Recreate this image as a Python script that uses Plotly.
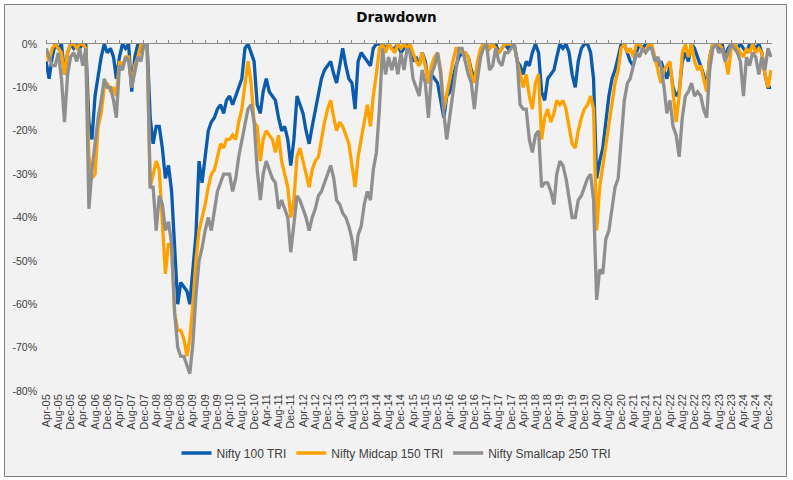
import pandas as pd
import plotly.graph_objects as go

# Monthly drawdown readings (%), Apr-2005 .. Jan-2025
months = pd.date_range("2005-04-01", periods=238, freq="MS")

nifty100 = [
    -4, -8, -3, 0, -1, 0, -7, -2, 0,                                  # 2005 Apr-Dec
    -1, 0, -1, 0, 0, -18, -22, -12, -7, -3, 0, -2,                    # 2006
    -1, -3, -8, -3, 0, -1, 0, -11, -3, 0, -2, 0,                      # 2007
    0, -17, -23, -19, -19, -24, -31, -28, -34, -46, -60, -55,         # 2008
    -56, -57, -60, -51, -44, -27, -32, -26, -20, -18, -17, -15,       # 2009
    -14, -16, -13, -12, -14, -12, -10, -8, -1, 0, -2, -4,             # 2010
    -14, -16, -11, -8, -11, -12, -13, -17, -20, -19, -22, -28,        # 2011
    -22, -12, -14, -16, -20, -23, -19, -15, -11, -8, -6, -5,          # 2012
    -4, -7, -9, -5, -1, -5, -8, -9, -15, -4, -2, -3,                  # 2013
    -4, -5, -1, 0, 0, 0, -1, 0, -1, -1, 0, -2,                        # 2014
    -1, 0, 0, -4, -3, -5, -2, -4, -9, -7, -8, -9,                     # 2015
    -13, -17, -12, -11, -8, -5, -3, -2, -2, -3, -6, -8,               # 2016
    -6, -2, 0, 0, -1, 0, 0, -2, -1, 0, -1, 0,                         # 2017
    0, -4, -5, -7, -4, -5, -2, 0, -2, -11, -13, -8,                   # 2018
    -7, -6, -3, 0, -1, 0, -2, -7, -10, -4, -1, 0,                     # 2019
    0, -2, -8, -31, -27, -24, -18, -12, -8, -6, -3, 0,                # 2020
    0, -2, -4, -5, -2, 0, -1, 0, 0, -1, -3, -5,                       # 2021
    -4, -6, -8, -5, -10, -12, -11, -4, -2, -4, 0, -1,                 # 2022
    -3, -5, -7, -10, -3, 0, 0, -1, 0, -3, -1, 0,                      # 2023
    0, -1, 0, -1, -2, 0, 0, -1, 0, -2, -7, -10,                       # 2024
    -10,                                                              # 2025 Jan
]

midcap150 = [
    -2, -4, -1, 0, -1, -2, -7, -2, 0,
    0, -1, 0, 0, -1, -26, -31, -30, -19, -16, -10, -9,
    -11, -10, -12, -4, -5, -3, -3, -10, -5, -3, 0, 0,
    0, -33, -30, -27, -29, -43, -53, -46, -47, -62, -66, -66,
    -68, -72, -68, -60, -50, -43, -40, -37, -33, -30, -29, -26,
    -23, -24, -22, -22, -21, -22, -18, -15, -9, -4, -9, -18,
    -19, -27, -22, -20, -21, -22, -25, -21, -27, -30, -33, -40,
    -36, -26, -24, -27, -30, -33, -29, -27, -26, -22, -18, -15,
    -13, -17, -20, -18, -19, -21, -23, -28, -33, -26, -22, -18,
    -14, -19, -12, -7, -1, 0, -2, 0, -1, -2, 0, -1,
    0, -1, 0, -2, -4, -5, -2, -5, -9, -5, -3, -2,
    -6, -15, -12, -8, -4, -1, -1, -2, -2, -3, -7, -9,
    -4, -1, 0, 0, -1, 0, -1, -2, -1, 0, 0, 0,
    0, -4, -7, -10, -7, -12, -15, -9, -7, -22, -17, -15,
    -18, -16, -13, -14, -13, -15, -19, -23, -24, -20, -17, -15,
    -14, -12, -15, -43, -33, -28, -24, -18, -14, -9, -6, -1,
    0, -2, -1, -3, 0, 0, -1, -2, 0, 0, -3, -6,
    -9, -6, -5, -4, -11, -18, -12, -2, 0, -3, 0, -4,
    -6, -5, -8, -11, -3, 0, 0, 0, -1, -3, -7, -1,
    0, -1, -2, -3, -1, -2, 0, -2, -1, -2, -7, -10,
    -6,
]

smallcap250 = [
    -1, -3, -5, -5, -2, -8, -18, -7, -3,
    -2, -4, -1, -5, -1, -38, -29, -23, -17, -13, -8, -10,
    -10, -13, -17, -5, -6, -3, -4, -10, -6, -3, -4, 0,
    0, -33, -33, -43, -35, -37, -43, -41, -46, -62, -70, -72,
    -72, -74, -76, -69, -58, -50, -47, -43, -40, -43, -38, -34,
    -32, -30, -30, -30, -34, -31, -26, -22, -18, -15, -14, -18,
    -29, -36, -30, -27, -29, -31, -32, -38, -36, -38, -40, -48,
    -41, -35, -36, -38, -40, -43, -40, -38, -35, -34, -32, -30,
    -28, -31, -36, -37, -39, -40, -42, -45, -50, -44, -42, -37,
    -34, -36, -29, -25, -15, -1, -7, -3, -6, -3, -7, -2,
    -6, -1, -2, -8, -10, -12, -6, -9, -17, -7, -5, -2,
    -7, -16, -22, -17, -12, -6, -1, -1, -4, -7, -9, -15,
    -8, -3, -1, 0, -6, -5, -1, -4, -5, -2, -2, -1,
    0, -4, -14, -15, -15, -22, -25, -21, -20, -33, -32, -32,
    -34, -37, -30, -27, -28, -31, -35, -40, -40, -36, -35, -33,
    -31, -30, -36, -59, -52, -53, -45, -43, -38, -33, -31, -21,
    -13, -9, -8, -5, -2, -3, -1, -2, -1, -1, -4, -3,
    -5, -10, -16, -13, -19, -21, -26, -17, -12, -11, -9, -12,
    -11, -12, -15, -17, -6, -1, 0, -2, -1, -4, -2, 0,
    -1, -2, -4, -12, -3, -5, -2, -3, -7, -3, -6, -1,
    -3,
]

series_names = ["Nifty 100 TRI", "Nifty Midcap 150 TRI", "Nifty Smallcap 250 TRI"]
series_colors = ["#0B5BAC", "#FFA200", "#8F8F8F"]

y_tickvals = [0, -10, -20, -30, -40, -50, -60, -70, -80]
y_ticktext = ["0%", "-10%", "-20%", "-30%", "-40%", "-50%", "-60%", "-70%", "-80%"]

# ---- layout geometry (pixels) ----
W, H = 793, 480
L, R, T, B = 46, 21, 44, 89
PW, PH = W - L - R, H - T - B


def px_x(p):
    return (p - L) / PW


def px_y(p):
    return (H - B - p) / PH


fig = go.Figure()
for name, vals, color in zip(series_names, [nifty100, midcap150, smallcap250], series_colors):
    fig.add_trace(go.Scatter(
        x=months, y=vals, mode="lines", name=name,
        line=dict(color=color, width=3.3), hoverinfo="skip",
    ))

# invisible helper trace so the top (0%) axis with tick marks is drawn
fig.add_trace(go.Scatter(x=months, y=[None] * len(months), xaxis="x2", yaxis="y",
                         mode="lines", showlegend=False, hoverinfo="skip"))

font_main = "Liberation Sans, Arial, sans-serif"
x_range = ["2005-03-31", "2025-01-10"]

fig.update_layout(
    width=W, height=H,
    margin=dict(l=L, r=R, t=T, b=B),
    paper_bgcolor="white",
    plot_bgcolor="rgba(0,0,0,0)",
    font=dict(family=font_main, size=11, color="#404040"),
    title=dict(text="<b>Drawdown</b>", x=0.5, xref="container", xanchor="center",
               y=1 - 17 / H, yref="container", yanchor="middle",
               font=dict(family="DejaVu Sans, Verdana, sans-serif", size=13.5, color="#0D0D0D")),
    showlegend=True,
    legend=dict(orientation="h", x=0.5, xref="container", xanchor="center",
                y=1 - 453 / H, yref="container", yanchor="middle",
                font=dict(family=font_main, size=12, color="#404040"),
                bgcolor="rgba(0,0,0,0)", itemwidth=30, tracegroupgap=0),
    xaxis=dict(
        type="date", range=x_range, tick0="2005-04-01", dtick="M4",
        tickformat="%b-%y", tickangle=-90, showgrid=False, zeroline=False,
        showline=False, ticks="", automargin=False,
        tickfont=dict(family=font_main, size=11, color="#404040"),
    ),
    xaxis2=dict(
        type="date", range=x_range, tick0="2005-04-01", dtick="M4",
        overlaying="x", side="top", anchor="y", matches="x",
        showticklabels=False, showgrid=False, zeroline=False,
        showline=True, linecolor="#8C8C8C", linewidth=1,
        ticks="outside", ticklen=3, tickcolor="#8C8C8C", tickwidth=1,
        layer="below traces", automargin=False,
    ),
    yaxis=dict(
        range=[-80, 0], tickvals=y_tickvals, ticktext=y_ticktext,
        showgrid=False, zeroline=False, showline=False, ticks="",
        ticklabelstandoff=8, automargin=False,
        tickfont=dict(family=font_main, size=10.5, color="#404040"),
    ),
    shapes=[dict(
        type="rect", xref="paper", yref="paper", layer="below",
        x0=px_x(4.5), x1=px_x(786.5), y0=px_y(476.5), y1=px_y(4.5),
        fillcolor="#F2F2F2", line=dict(color="#7F7F7F", width=1),
    )],
)

fig.write_html(
    "out.html",
    config={"displayModeBar": False},
    post_script="document.body.style.margin='0';document.body.style.overflow='hidden';",
)
